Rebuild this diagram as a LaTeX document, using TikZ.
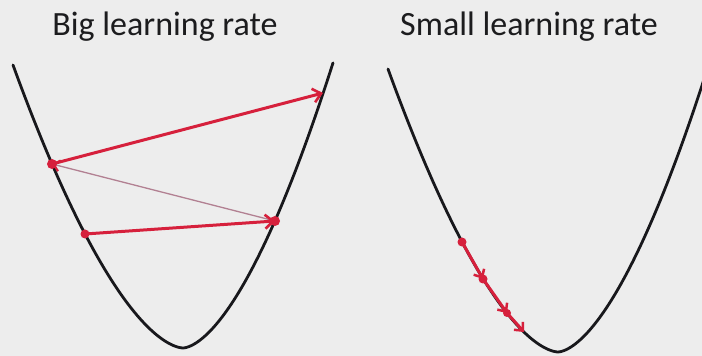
\documentclass[tikz,border=0pt]{standalone}
\usepackage{fontspec}
\setmainfont{Carlito}
\usetikzlibrary{arrows.meta}
\definecolor{bg}{RGB}{237,237,237}
\definecolor{redln}{RGB}{214,32,60}
\definecolor{thinln}{RGB}{178,128,146}
\definecolor{curveclr}{RGB}{24,24,28}
\definecolor{txt}{RGB}{28,28,30}
\begin{document}
\begin{tikzpicture}[x=1pt,y=1pt,
  curve/.style={draw=curveclr, line width=2.8pt, line cap=round},
  bigarrow/.style={draw=redln, line width=3pt, -{Straight Barb[length=8pt,width=14pt,line width=2.6pt]}},
  thinarrow/.style={draw=thinln, line width=1.3pt, -{Straight Barb[length=6pt,width=11pt,line width=2.2pt,color=redln]}},
  smallarrow/.style={draw=redln, line width=3pt, -{Straight Barb[length=6.5pt,width=12pt,line width=2.5pt]}},
  dot/.style={fill=redln},
  title/.style={font=\fontsize{34}{40}\selectfont, text=txt, anchor=base, inner sep=0pt}]
\clip (0,0) rectangle (702,356);
\fill[bg] (0,0) rectangle (702,356);

\node[title] (t1) at (165,320) {Big learning rate};
\node[title] (t2) at (529,320) {Small learning rate};

% left curve
\draw[curve] plot[domain=-170:150, samples=161, smooth, variable=\t]
  ({183+\t}, {8 + ((\t<0)*0.0591 + (\t>=0)*0.0732)*(abs(\t)+0.01)^1.65});
% right curve
\draw[curve] plot[domain=-170:146, samples=161, smooth, variable=\t]
  ({558+\t}, {4 + ((\t<0)*0.0591 + (\t>=0)*0.0732)*(abs(\t)+0.01)^1.65});

% left points
\coordinate (A) at (52,192);
\coordinate (B) at (85,122);
\coordinate (C) at (275,135);
\coordinate (D) at (323,263);
% right points
\coordinate (E) at (462,114);
\coordinate (F) at (483,77);
\coordinate (G) at (507,43);
\coordinate (H) at (524,24);

\draw[thinarrow] (C) -- (A);
\draw[bigarrow] (B) -- (C);
\draw[bigarrow] (A) -- (D);
\fill[dot] (A) circle (5);
\fill[dot] (B) circle (4.5);
\fill[dot] (C) circle (5);

\draw[smallarrow] (E) -- (F);
\draw[smallarrow] (F) -- (G);
\draw[smallarrow] (G) -- (H);
\fill[dot] (E) circle (4.5);
\fill[dot] (F) circle (4.5);
\fill[dot] (G) circle (4);
\end{tikzpicture}
\end{document}
